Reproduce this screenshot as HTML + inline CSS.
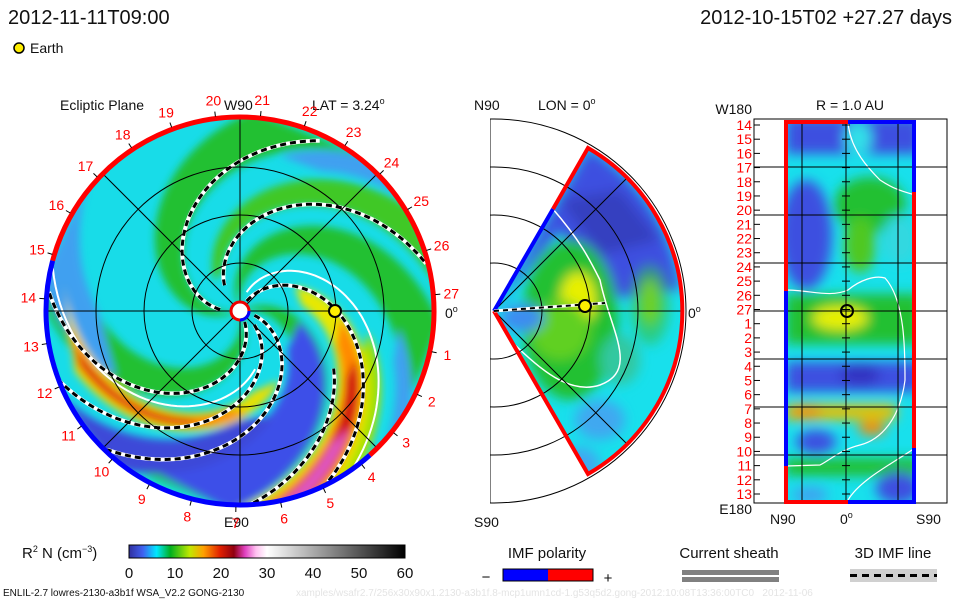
<!DOCTYPE html>
<html><head><meta charset="utf-8">
<style>
html,body{margin:0;padding:0;background:#fff;}
svg{display:block;font-family:"Liberation Sans",sans-serif;}
</style></head>
<body>
<svg id="s" width="960" height="600" viewBox="0 0 960 600" xmlns="http://www.w3.org/2000/svg">
<defs>
  <filter id="bl" x="-20%" y="-20%" width="140%" height="140%"><feGaussianBlur stdDeviation="4"/></filter>
  <filter id="bl2" x="-30%" y="-30%" width="160%" height="160%"><feGaussianBlur stdDeviation="6"/></filter>
  <clipPath id="cEc"><circle cx="240" cy="311" r="194"/></clipPath>
  <clipPath id="cMer"><path d="M494,311 L588,148 A188,188 0 0 1 588,474 Z"/></clipPath>
  <clipPath id="cBoxM"><rect x="490" y="110" width="200" height="400"/></clipPath>
  <clipPath id="cR"><rect x="786" y="122" width="129" height="380"/></clipPath>
  <linearGradient id="cbar" x1="0" x2="1" y1="0" y2="0">
    <stop offset="0" stop-color="#3030a0"/>
    <stop offset="0.05" stop-color="#4060f0"/>
    <stop offset="0.1" stop-color="#00e8ff"/>
    <stop offset="0.15" stop-color="#00b020"/>
    <stop offset="0.22" stop-color="#c0e800"/>
    <stop offset="0.27" stop-color="#ffa000"/>
    <stop offset="0.33" stop-color="#e02000"/>
    <stop offset="0.38" stop-color="#900010"/>
    <stop offset="0.42" stop-color="#e040c0"/>
    <stop offset="0.46" stop-color="#ffc0f0"/>
    <stop offset="0.5" stop-color="#ffffff"/>
    <stop offset="1" stop-color="#000000"/>
  </linearGradient>
</defs>

<text x="8" y="24" font-size="20" fill="#111">2012-11-11T09:00</text>
<text x="952" y="24" font-size="20" fill="#111" text-anchor="end">2012-10-15T02 +27.27 days</text>
<g>
  <circle cx="19" cy="48" r="5" fill="#ffee00" stroke="#000" stroke-width="1.5"/>
  <text x="30" y="53" font-size="14" fill="#111">Earth</text>
</g>

<!-- Ecliptic panel -->
<text x="60" y="110" font-size="14" fill="#111">Ecliptic Plane</text>
<text x="224" y="110" font-size="14" fill="#111">W90</text>
<text x="312" y="110" font-size="14" fill="#111">LAT = 3.24<tspan dy="-6" font-size="9">o</tspan></text>
<text x="224" y="527" font-size="14" fill="#111">E90</text>
<text x="445" y="318" font-size="14" fill="#111">0<tspan dy="-6" font-size="9">o</tspan></text>
<g clip-path="url(#cEc)">
  <circle cx="240" cy="311" r="194" fill="#18dce8"/>
  <g id="eclBands" filter="url(#bl)"></g>
</g>
<g id="eclLines"></g>
<g id="eclGrid" stroke="#000" stroke-width="1" fill="none">
  <circle cx="240" cy="311" r="48"/><circle cx="240" cy="311" r="96"/><circle cx="240" cy="311" r="144"/>
  <line x1="46" y1="311" x2="434" y2="311"/><line x1="240" y1="117" x2="240" y2="505"/>
  <line x1="103" y1="174" x2="377" y2="448"/><line x1="103" y1="448" x2="377" y2="174"/>
</g>
<g id="eclRim"></g>
<g>
  <circle cx="240" cy="311" r="9" fill="#fff" stroke="#e00" stroke-width="3"/>
  <path d="M240,320 A9,9 0 0 0 249,311" stroke="#00f" stroke-width="3" fill="none"/>
</g>
<circle cx="335" cy="311" r="6" fill="#ffee00" stroke="#000" stroke-width="2"/>
<g id="eclLabels" font-size="14" fill="#f00" text-anchor="middle"></g>

<!-- Meridional panel -->
<text x="474" y="110" font-size="14" fill="#111">N90</text>
<text x="538" y="110" font-size="14" fill="#111">LON = 0<tspan dy="-6" font-size="9">o</tspan></text>
<text x="474" y="527" font-size="14" fill="#111">S90</text>
<text x="688" y="318" font-size="14" fill="#111">0<tspan dy="-6" font-size="9">o</tspan></text>
<g clip-path="url(#cMer)">
  <rect x="490" y="110" width="200" height="400" fill="#18e0ec"/>
  <g filter="url(#bl2)">
    <path d="M494,311 L588,148 A188,188 0 0 1 680,290 L600,300 L560,230 Z" fill="#3c50e0"/>
    <path d="M560,200 L620,190 L660,240 L600,255 Z" fill="#3440c0"/>
    <ellipse cx="570" cy="320" rx="48" ry="80" fill="#20c030"/>
    <ellipse cx="578" cy="300" rx="18" ry="28" fill="#e8f000"/>
    <ellipse cx="560" cy="330" rx="30" ry="30" fill="#60d020"/>
    <ellipse cx="650" cy="302" rx="10" ry="24" fill="#d0e800"/>
    <ellipse cx="650" cy="305" rx="20" ry="40" fill="#30c040" opacity="0.6"/>
    <ellipse cx="522" cy="318" rx="22" ry="14" fill="#3c8cf0"/>
    <ellipse cx="600" cy="420" rx="25" ry="20" fill="#40a8f0"/>
    <ellipse cx="578" cy="465" rx="22" ry="18" fill="#40a8f0"/>
    <ellipse cx="620" cy="360" rx="20" ry="25" fill="#30c8a0"/>
  </g>
  <path d="M552,208 C580,240 590,260 600,280 C610,330 640,370 600,385 C570,395 540,370 510,340" stroke="#fff" stroke-width="1.5" fill="none"/>
</g>
<g clip-path="url(#cBoxM)" stroke="#000" stroke-width="1" fill="none">
  <circle cx="494" cy="311" r="48"/><circle cx="494" cy="311" r="96"/><circle cx="494" cy="311" r="144"/><circle cx="494" cy="311" r="192"/>
  <line x1="494" y1="311" x2="682" y2="311"/><line x1="494" y1="311" x2="627" y2="178"/><line x1="494" y1="311" x2="627" y2="444"/>
  <line x1="490" y1="119" x2="490" y2="503"/>
</g>
<g fill="none" stroke-width="4">
  <path d="M494,311 L553,209" stroke="#00f"/>
  <path d="M553,209 L588,148 A188,188 0 0 1 588,474 L494,311" stroke="#f00"/>
</g>
<g>
  <line x1="494" y1="311" x2="605" y2="303" stroke="#fff" stroke-width="3"/>
  <line x1="494" y1="311" x2="605" y2="303" stroke="#000" stroke-width="2" stroke-dasharray="5 4"/>
  <circle cx="585" cy="306" r="6" fill="#ffee00" stroke="#000" stroke-width="2"/>
</g>

<!-- R = 1 AU panel -->
<text x="850" y="110" font-size="14" fill="#111" text-anchor="middle">R = 1.0 AU</text>
<text x="752" y="114" font-size="14" fill="#111" text-anchor="end">W180</text>
<text x="752" y="514" font-size="14" fill="#111" text-anchor="end">E180</text>
<text x="770" y="524" font-size="14" fill="#111">N90</text>
<text x="840" y="524" font-size="14" fill="#111">0<tspan dy="-6" font-size="9">o</tspan></text>
<text x="916" y="524" font-size="14" fill="#111">S90</text>
<g clip-path="url(#cR)">
  <rect x="786" y="122" width="129" height="380" fill="#18e0ec"/>
  <g filter="url(#bl2)">
    <rect x="786" y="118" width="135" height="36" fill="#3c50e0"/>
    <ellipse cx="858" cy="138" rx="14" ry="16" fill="#30e0e8"/>
    <ellipse cx="806" cy="235" rx="26" ry="55" fill="#3c50e0"/>
    <ellipse cx="870" cy="205" rx="36" ry="28" fill="#20c030"/>
    <ellipse cx="860" cy="245" rx="16" ry="28" fill="#50c820"/>
    <ellipse cx="900" cy="240" rx="18" ry="25" fill="#30d8e0"/>
    <rect x="786" y="294" width="135" height="50" fill="#20c030"/>
    <ellipse cx="840" cy="318" rx="28" ry="12" fill="#e8f000"/>
    <rect x="786" y="362" width="135" height="30" fill="#3c50e0"/>
    <ellipse cx="860" cy="375" rx="20" ry="10" fill="#3030c0"/>
    <rect x="786" y="404" width="110" height="16" fill="#e8c000"/>
    <ellipse cx="806" cy="412" rx="16" ry="7" fill="#ff9000"/>
    <ellipse cx="872" cy="428" rx="14" ry="7" fill="#ff8800"/>
    <ellipse cx="816" cy="442" rx="20" ry="12" fill="#3c50e0"/>
    <rect x="786" y="458" width="135" height="18" fill="#20c030"/>
    <ellipse cx="898" cy="488" rx="22" ry="16" fill="#3c50e0"/>
    <ellipse cx="810" cy="495" rx="18" ry="8" fill="#40a0f0"/>
  </g>
  <path d="M848,122 C850,150 870,170 880,180 C895,190 905,192 915,195" stroke="#fff" stroke-width="1.2" fill="none"/>
  <path d="M786,290 C810,290 830,298 848,290 C860,280 875,275 885,278 C905,300 905,350 905,380 C900,420 880,440 860,445 C840,450 830,460 820,465 L786,466" stroke="#fff" stroke-width="1.2" fill="none"/>
  <path d="M848,500 C860,480 890,465 915,448" stroke="#fff" stroke-width="1.2" fill="none"/>
</g>
<g id="rGrid" stroke="#000" stroke-width="1" fill="none">
  <rect x="754" y="119" width="193" height="384"/>
  <line x1="802" y1="122" x2="802" y2="502"/><line x1="846" y1="122" x2="846" y2="502"/><line x1="898" y1="122" x2="898" y2="502"/>
</g>
<g fill="none" stroke-width="4">
  <path d="M786,291 L786,122 L848,122" stroke="#f00"/>
  <path d="M848,122 L914,122 L914,192" stroke="#00f"/>
  <path d="M914,192 L914,448" stroke="#f00"/>
  <path d="M914,448 L914,502 L848,502" stroke="#00f"/>
  <path d="M848,502 L786,502 L786,466" stroke="#f00"/>
  <path d="M786,466 L786,291" stroke="#00f"/>
</g>
<circle cx="847" cy="311" r="6" fill="none" stroke="#000" stroke-width="2"/>
<g id="rLabels" font-size="14" fill="#f00" text-anchor="end"></g>

<!-- Colorbar & legends -->
<text x="22" y="558" font-size="15" fill="#111">R<tspan dy="-6" font-size="9">2</tspan><tspan dy="6"> N (cm</tspan><tspan dy="-6" font-size="9">−3</tspan><tspan dy="6">)</tspan></text>
<rect x="129" y="545" width="276" height="13" fill="url(#cbar)" stroke="#000" stroke-width="1"/>
<g id="cbTicks" font-size="15" fill="#111" text-anchor="middle"></g>

<text x="547" y="558" font-size="15" fill="#111" text-anchor="middle">IMF polarity</text>
<g>
  <text x="486" y="582" font-size="15" fill="#111" text-anchor="middle">−</text>
  <rect x="503" y="569" width="45" height="12" fill="#00f"/>
  <rect x="548" y="569" width="45" height="12" fill="#f00"/>
  <rect x="503" y="569" width="90" height="12" fill="none" stroke="#000"/>
  <text x="608" y="583" font-size="15" fill="#111" text-anchor="middle">+</text>
</g>
<text x="729" y="558" font-size="15" fill="#111" text-anchor="middle">Current sheath</text>
<g>
  <rect x="682" y="570" width="97" height="5" fill="#808080"/>
  <rect x="682" y="577" width="97" height="5" fill="#808080"/>
</g>
<text x="893" y="558" font-size="15" fill="#111" text-anchor="middle">3D IMF line</text>
<g>
  <rect x="850" y="569" width="87" height="13" fill="#d0d0d0"/>
  <line x1="850" y1="575.5" x2="937" y2="575.5" stroke="#000" stroke-width="3" stroke-dasharray="7 5"/>
</g>
<text x="3" y="596" font-size="10" fill="#111">ENLIL-2.7 lowres-2130-a3b1f WSA_V2.2 GONG-2130</text>
<text x="296" y="596" font-size="10" fill="#e4e4e4">xamples/wsafr2.7/256x30x90x1.2130-a3b1f.8-mcp1umn1cd-1.g53q5d2.gong-2012:10:08T13:36:00TC0 &#160; 2012-11-06</text>
</svg>

<script>
// ---- data arrays ----
const dayLabels = [1,2,3,4,5,6,7,8,9,10,11,12,13,14,15,16,17,18,19,20,21,22,23,24,25,26,27];
const rDayLabels = [14,15,16,17,18,19,20,21,22,23,24,25,26,27,1,2,3,4,5,6,7,8,9,10,11,12,13];
const cbTickValues = [0,10,20,30,40,50,60];
// spiral density bands
const bandAngle = [20,110,200,290,150, 287,174,94, 70, 55,55,55,55, 15,-10, 17,17,17];
const bandHalf  = [20,18,18,18,12, 16,8,6, 8, 15,10,6,4, 24,14, 14,8,4];
const bandColor = ["#20c030","#20c030","#20c030","#20c030","#40c828",
                   "#40a0f0","#40a0f0","#40a0f0", "#a8e000",
                   "#e8e800","#ff8a00","#d01010","#e058c8",
                   "#3c50e8","#3c48d8", "#e8e000","#ff8000","#d02010"];
const bandR0    = [0,0,0,0,40, 140,160,160, 130, 60,100,125,160, 60,110, 80,100,120];
const bandR1    = [194,194,194,194,194, 194,194,194, 194, 194,194,194,194, 194,194, 178,172,168];
const bandK     = [0.66,0.66,0.66,0.66,0.66, 0.66,0.66,0.66, 0.66, 0.66,0.66,0.66,0.66, 0.66,0.66, 1.08,1.08,1.08];
// dashed IMF spirals and white current-sheath spirals
const dashAngle = [189,141,64,301,329,353,41];
const dashR0 = [20,30,12,12,20,15,110];
const dashR1 = [188,194,194,194,194,194,194];
const sheathAngle = [338,85];
const sheathK = [0.89,0.72];
const sheathR0 = [60,20];
const sheathR1 = [194,194];

const NS = "http://www.w3.org/2000/svg";
const cx = 240, cy = 311, R = 194;
function mk(tag, attrs, parent){ const e=document.createElementNS(NS,tag); for(const k in attrs) e.setAttribute(k,attrs[k]); parent.appendChild(e); return e; }
function sp(th0,k,r){ const t=(th0-k*r)*Math.PI/180; return [cx+r*Math.cos(t), cy-r*Math.sin(t)]; }
function spiralPath(th0,k,r0,r1){ let d=""; for(let r=r0;r<=r1;r+=3){ const p=sp(th0,k,r); d+=(d?"L":"M")+p[0].toFixed(1)+","+p[1].toFixed(1);} return d; }

const bands = document.getElementById("eclBands");
for(let i=0;i<bandAngle.length;i++){
  let pts=[];
  const rEnd = bandR1[i] >= 194 ? bandR1[i]+8 : bandR1[i];
  for(let r=bandR0[i]; r<=rEnd; r+=4) pts.push(sp(bandAngle[i]+bandHalf[i]*(0.4+0.6*r/R), bandK[i], r));
  for(let r=rEnd; r>=bandR0[i]; r-=4) pts.push(sp(bandAngle[i]-bandHalf[i]*(0.4+0.6*r/R), bandK[i], r));
  const el = mk("polygon",{points:pts.map(p=>p[0].toFixed(1)+","+p[1].toFixed(1)).join(" "), fill:bandColor[i]}, bands);
  
  
}

const lines = document.getElementById("eclLines");
const clipG = mk("g",{"clip-path":"url(#cEc)"},lines);
for(let i=0;i<sheathAngle.length;i++){
  const el = mk("path",{d:spiralPath(sheathAngle[i],sheathK[i],sheathR0[i],sheathR1[i]),stroke:"#fff","stroke-width":"2",fill:"none"},clipG);
  
  
}
for(let i=0;i<dashAngle.length;i++){
  const d=spiralPath(dashAngle[i],0.66,dashR0[i],dashR1[i]);
  const w = mk("path",{d:d,stroke:"#fff","stroke-width":"4",fill:"none"},clipG);
  
  
  const b = mk("path",{d:d,stroke:"#000","stroke-width":"3",fill:"none","stroke-dasharray":"6 4"},clipG);
  
  
}

const rim = document.getElementById("eclRim");
function arc(a0,a1,col){ const p0=[cx+R*Math.cos(a0*Math.PI/180),cy-R*Math.sin(a0*Math.PI/180)], p1=[cx+R*Math.cos(a1*Math.PI/180),cy-R*Math.sin(a1*Math.PI/180)];
  const large=(a1-a0)>180?1:0; return mk("path",{d:"M"+p0[0]+","+p0[1]+" A"+R+","+R+" 0 "+large+" 0 "+p1[0]+","+p1[1],stroke:col,"stroke-width":"5",fill:"none"},rim); }
const redArc = arc(-48,165,"#f00");


const blueArc = arc(165,312,"#00f");



const lab = document.getElementById("eclLabels");
dayLabels.forEach((d,i)=>{
  const a=(-12 - i*13.2)*Math.PI/180, rr=212;
  const t = mk("text",{x:(cx+rr*Math.cos(a)).toFixed(1), y:(cy-rr*Math.sin(a)+5).toFixed(1)},lab);
  t.textContent=d;
  
  
  const ti = mk("line",{x1:cx+(R+2)*Math.cos(a), y1:cy-(R+2)*Math.sin(a), x2:cx+(R+7)*Math.cos(a), y2:cy-(R+7)*Math.sin(a), stroke:"#000"},lab);
  
  
});

const rl = document.getElementById("rLabels"), rg = document.getElementById("rGrid");
const y0=125, y1=494, step=(y1-y0)/(rDayLabels.length-1);
rDayLabels.forEach((d,i)=>{
  const y=y0+i*step;
  const t=mk("text",{x:"752",y:(y+5).toFixed(1)},rl);
  t.textContent=d;
  
  
  const tk=mk("line",{x1:"754",y1:y,x2:"760",y2:y},rg);
  
  
  const tc=mk("line",{x1:"842",y1:y,x2:"850",y2:y},rg);
  
  
});
[167,215,263,311,359,407,455].forEach(y=>{
  const l=mk("line",{x1:"754",y1:y,x2:"947",y2:y},rg);
  
  
});

const cb = document.getElementById("cbTicks");
cbTickValues.forEach(v=>{
  const x=129+v/60*276;
  const t=mk("text",{x:x.toFixed(1),y:"578"},cb);
  t.textContent=v;
  
  
});
</script>
</body></html>
